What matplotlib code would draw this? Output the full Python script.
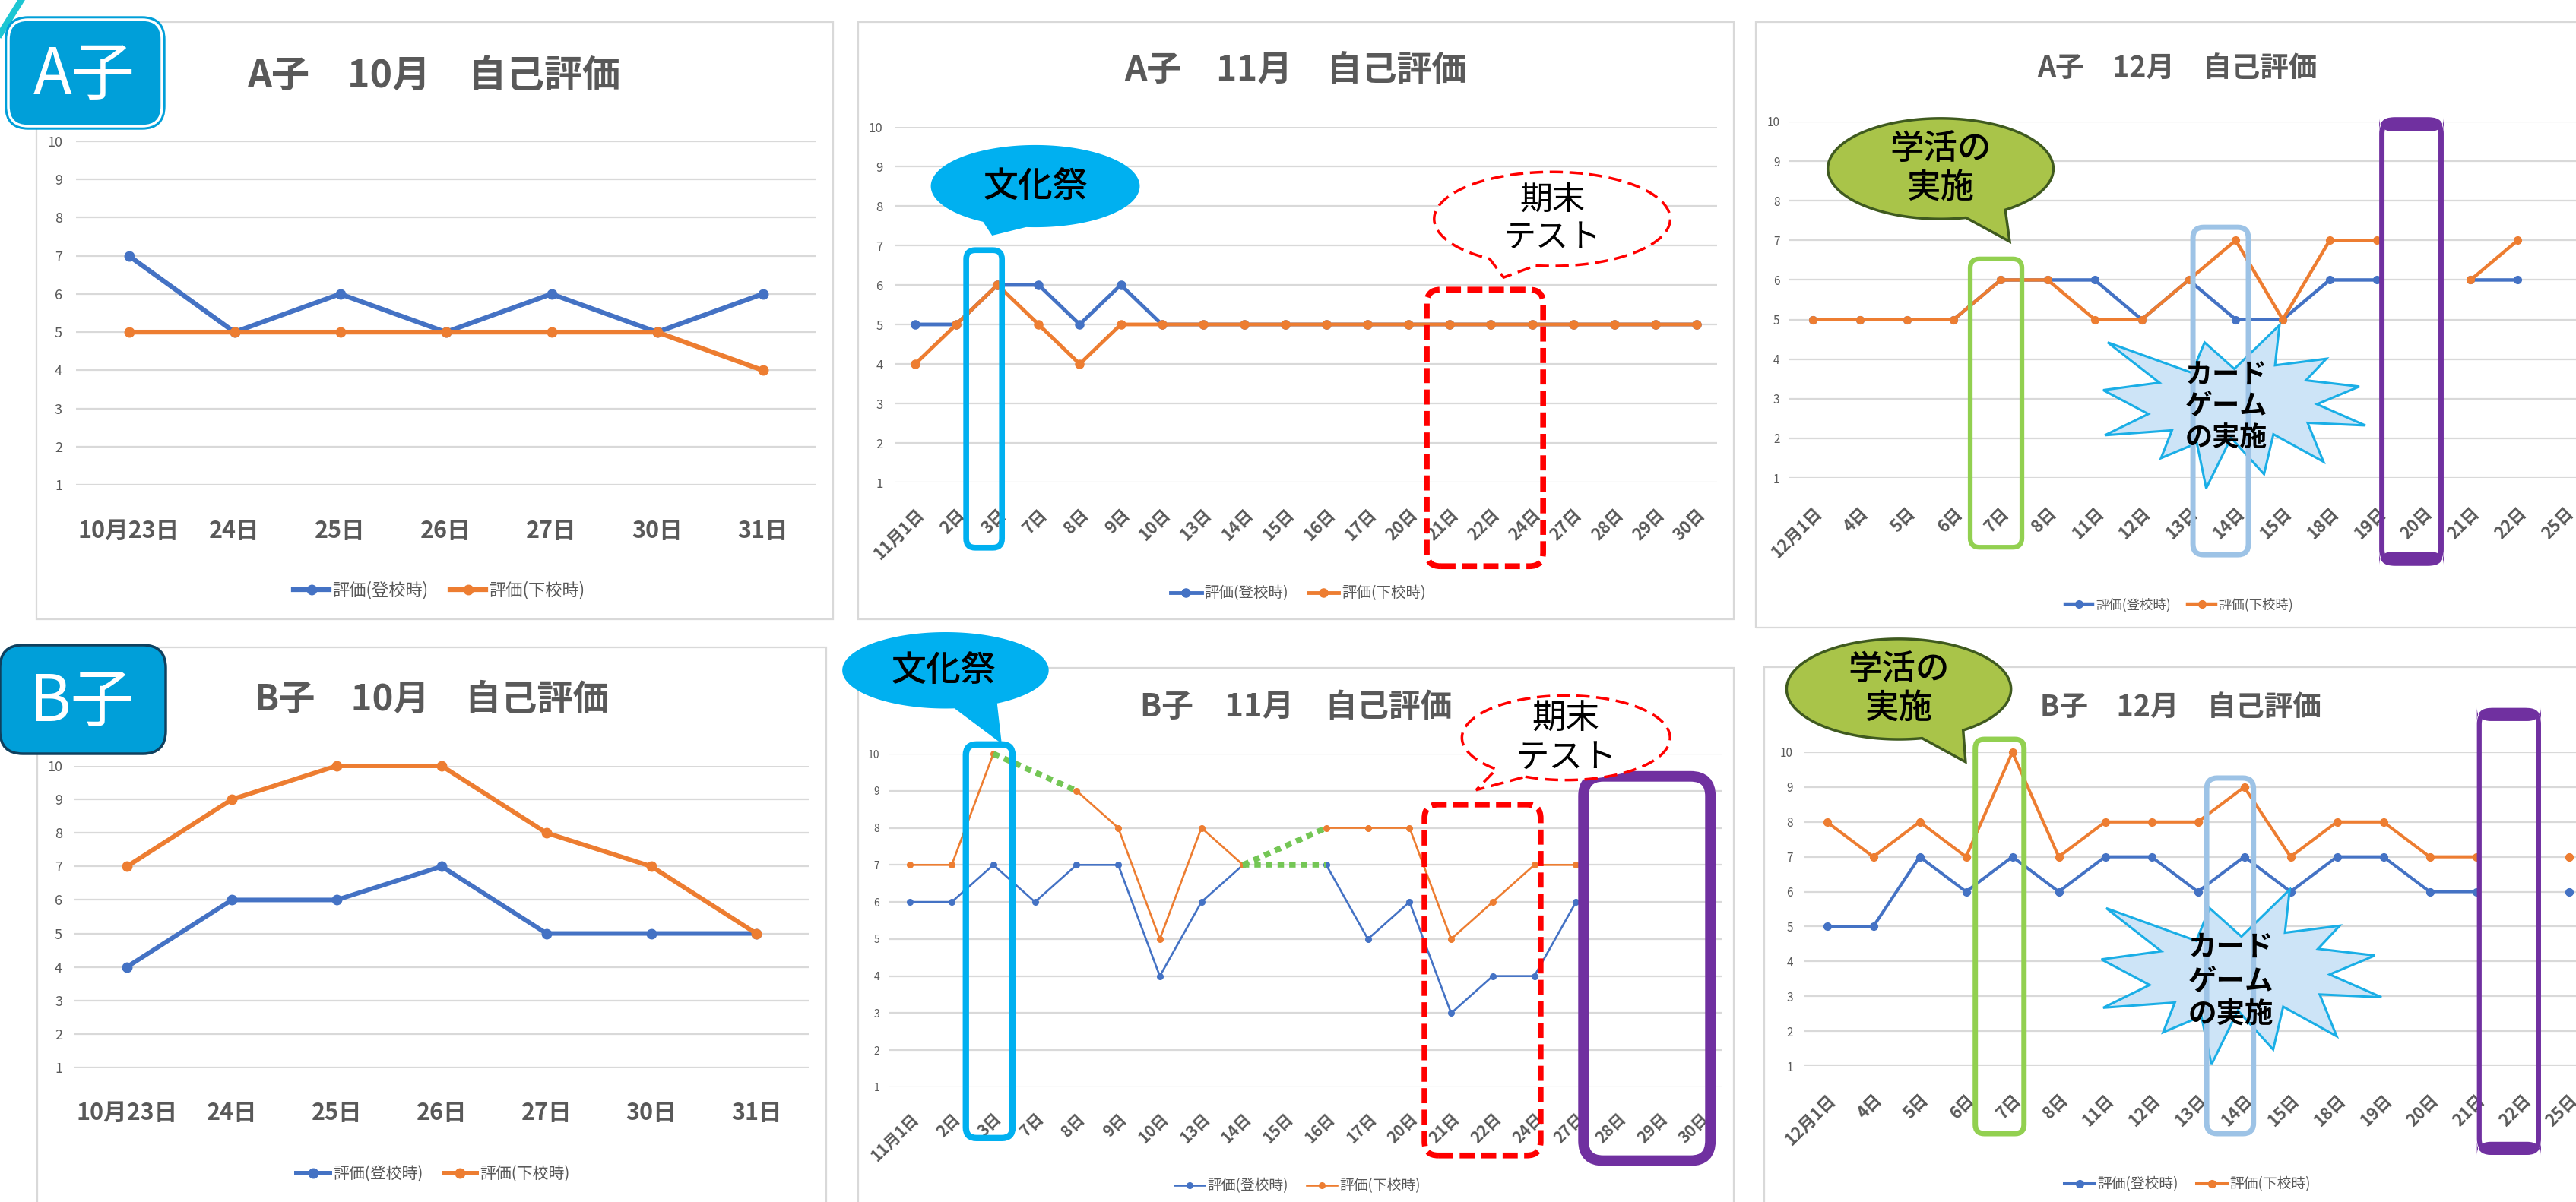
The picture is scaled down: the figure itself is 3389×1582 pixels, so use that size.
import numpy as np
import matplotlib
matplotlib.use('Agg')
from matplotlib import pyplot as plt
from matplotlib.patches import FancyBboxPatch, Polygon
from matplotlib.lines import Line2D

plt.rcParams['font.family'] = ['Noto Sans CJK JP', 'DejaVu Sans']

nan = np.nan

# ~~~~~~~ data ~~~~~~~
oct_days = ['10月23日', '24日', '25日', '26日', '27日', '30日', '31日']
nov_days = ['11月1日', '2日', '3日', '7日', '8日', '9日', '10日', '13日', '14日', '15日',
            '16日', '17日', '20日', '21日', '22日', '24日', '27日', '28日', '29日', '30日']
dec_days = ['12月1日', '4日', '5日', '6日', '7日', '8日', '11日', '12日', '13日', '14日',
            '15日', '18日', '19日', '20日', '21日', '22日', '25日']

a_oct_in = [7, 5, 6, 5, 6, 5, 6]
a_oct_out = [5, 5, 5, 5, 5, 5, 4]
a_nov_in = [5, 5, 6, 6, 5, 6, 5, 5, 5, 5, 5, 5, 5, 5, 5, 5, 5, 5, 5, 5]
a_nov_out = [4, 5, 6, 5, 4, 5, 5, 5, 5, 5, 5, 5, 5, 5, 5, 5, 5, 5, 5, 5]
a_dec_in = [5, 5, 5, 5, 6, 6, 6, 5, 6, 5, 5, 6, 6, nan, 6, 6, nan]
a_dec_out = [5, 5, 5, 5, 6, 6, 5, 5, 6, 7, 5, 7, 7, nan, 6, 7, nan]

b_oct_in = [4, 6, 6, 7, 5, 5, 5]
b_oct_out = [7, 9, 10, 10, 8, 7, 5]
b_nov_in = [6, 6, 7, 6, 7, 7, 4, 6, 7, nan, 7, 5, 6, 3, 4, 4, 6, nan, nan, nan]
b_nov_out = [7, 7, 10, nan, 9, 8, 5, 8, 7, nan, 8, 8, 8, 5, 6, 7, 7, nan, nan, nan]
b_dec_in = [5, 5, 7, 6, 7, 6, 7, 7, 6, 7, 6, 7, 7, 6, 6, nan, 6]
b_dec_out = [8, 7, 8, 7, 10, 7, 8, 8, 8, 9, 7, 8, 8, 7, 7, nan, 7]

series_names = ['評価(登校時)', '評価(下校時)']

BLUE, ORANGE, GRAY, GRID = '#4472C4', '#ED7D31', '#595959', '#D9D9D9'

# Excel "irregularSeal1" outline (21600 units)
SEAL = np.array([(10800, 5800), (14522, 0), (14155, 5325), (18380, 4457), (16702, 7315),
                 (21097, 8137), (17607, 10475), (21600, 13290), (16837, 12942), (18145, 18095),
                 (14020, 14457), (13247, 19737), (10532, 14935), (8485, 21600), (7715, 15627),
                 (4762, 17617), (5667, 13937), (135, 14587), (3722, 11775), (0, 8615),
                 (4627, 7617), (370, 2295), (7312, 6320), (8352, 2295)]) / 21600.0

W, H = 3389, 1582
fig = plt.figure(figsize=(W / 100, H / 100), dpi=100)


def fxy(x, y):
    return x / W, 1 - y / H


def px_box(l, t, r, b, rad=0, **kw):
    p = FancyBboxPatch((l / W, 1 - b / H), (r - l) / W, (b - t) / H,
                       boxstyle=f'round,pad=0,rounding_size={rad / W}',
                       mutation_aspect=W / H, transform=fig.transFigure, **kw)
    fig.add_artist(p)
    return p


def draw_panel(p):
    l, t, r, b = p['plot']
    ax = fig.add_axes([l / W, 1 - b / H, (r - l) / W, (b - t) / H])
    ax.set_facecolor('none')
    n = len(p['days'])
    x = np.arange(n)
    for vals, col in ((p['in'], BLUE), (p['out'], ORANGE)):
        ax.plot(x, vals, color=col, lw=p['lw'], marker='o', ms=p['ms'],
                solid_capstyle='round', solid_joinstyle='round', zorder=3, clip_on=False)
    ax.set_xlim(-0.5, n - 0.5)
    ax.set_ylim(1, 10)
    ax.set_yticks(range(1, 11))
    ax.yaxis.grid(True, color=GRID, lw=1.6)
    ax.set_axisbelow(True)
    for s in ax.spines.values():
        s.set_visible(False)
    ax.set_xticks(x)
    ax.set_xticklabels(p['days'], fontsize=p['xfs'], fontweight='bold', color=GRAY)
    ax.tick_params(axis='y', length=0, labelsize=p['yfs'], labelcolor=GRAY, pad=p['ypad'])
    ax.tick_params(axis='x', length=0, pad=p['xpad'])
    if p['rot']:
        plt.setp(ax.get_xticklabels(), rotation=45, ha='right', va='top', rotation_mode='anchor')
    else:
        plt.setp(ax.get_xticklabels(), va='center')
    fig.text(*fxy(*p['title_xy']), p['title'], ha='center', va='center',
             fontsize=p['tfs'], fontweight='bold', color=GRAY)
    handles = [Line2D([], [], color=c, lw=p['lw'], marker='o', ms=p['ms']) for c in (BLUE, ORANGE)]
    fig.legend(handles, series_names, loc='center', bbox_to_anchor=fxy(*p['legend_xy']),
               ncol=2, frameon=False, fontsize=p['lfs'], labelcolor=GRAY,
               handlelength=2.1, handletextpad=0.2, columnspacing=1.3)
    ax.cw = (r - l) / n
    ax.yu = (b - t) / 9
    return ax


def box(ax, x0, x1, y0, y1, color, lw, rad=12, ls='-', z=6, fill=False):
    ax.add_patch(FancyBboxPatch((x0, y0), x1 - x0, y1 - y0,
                                boxstyle=f'round,pad=0,rounding_size={rad / ax.cw}',
                                mutation_aspect=ax.cw / ax.yu,
                                fc=color if fill else 'none', ec=color,
                                lw=lw, ls=ls, clip_on=False, zorder=z))


def caps(ax, x0, x1, y0, y1, color, lw, thick, rad):
    # thick top/bottom bands of the purple frames
    hx = (lw / 0.72 / 2) / ax.cw
    hy = (lw / 0.72 / 2) / ax.yu
    band = thick / ax.yu
    box(ax, x0 - hx, x1 + hx, y1 - band, y1 + hy, color, 0, rad=rad, fill=True)
    box(ax, x0 - hx, x1 + hx, y0 - hy, y0 + band, color, 0, rad=rad, fill=True)


def bubble(ax, cx, cy, a, b, t1, t2, tip, text, fs, fc, ec='none', lw=0, ls='-',
           weight='medium', tx=None, ty=None):
    t = np.radians(np.linspace(t2, t1 + 360, 240))
    pts = np.c_[cx + a * np.cos(t), cy + b * np.sin(t)]
    pts = np.vstack([pts, tip])
    ax.add_patch(Polygon(pts, closed=True, fc=fc, ec=ec, lw=lw, ls=ls,
                         clip_on=False, zorder=7))
    ax.text(cx if tx is None else tx, cy if ty is None else ty, text, ha='center', va='center',
            fontsize=fs, fontweight=weight, color='black', linespacing=1.15,
            zorder=8, clip_on=False)


def starburst(ax, cx, cy, hw, hh, text, fs, tx, ty):
    xs = cx + (SEAL[:, 0] * 2 - 1) * hw
    ys = cy + (1 - SEAL[:, 1] * 2) * hh
    ax.add_patch(Polygon(np.c_[xs, ys], closed=True, fc='#CDE4F7', ec='#1AAEE6', lw=2.2,
                         clip_on=False, zorder=5))
    ax.text(tx, ty, text, ha='center', va='center', fontsize=fs, fontweight='bold',
            color='black', linespacing=1.15, zorder=8, clip_on=False)


def gap_bridges(ax, vals, color, lw):
    v = np.asarray(vals, float)
    ok = np.where(~np.isnan(v))[0]
    for i0, i1 in zip(ok[:-1], ok[1:]):
        if i1 - i0 > 1:
            ax.plot([i0, i1], [v[i0], v[i1]], color=color, lw=lw, ls=(0, (1.1, 0.9)),
                    solid_capstyle='butt', zorder=4, clip_on=False)


# ~~~~~~~ panel frames ~~~~~~~
for fr in [(48, 29, 1096, 815), (1129, 29, 2281, 815), (2310, 29, 3420, 826),
           (49, 852, 1087, 1600), (1129, 879, 2281, 1600), (2321, 878, 3420, 1600)]:
    px_box(*fr, fc='none', ec=GRID, lw=1.6, zorder=-1)

panels = {
    'a10': dict(plot=(100, 186, 1073, 638), days=oct_days, **{'in': a_oct_in}, out=a_oct_out,
                lw=4.5, ms=9, xfs=22, yfs=13, ypad=13, xpad=44, rot=False,
                title='A子　10月　自己評価', title_xy=(571, 100), tfs=36,
                legend_xy=(578, 777), lfs=16),
    'a11': dict(plot=(1177, 167, 2259, 635), days=nov_days, **{'in': a_nov_in}, out=a_nov_out,
                lw=3.5, ms=8, xfs=16, yfs=12, ypad=11, xpad=22, rot=True,
                title='A子　11月　自己評価', title_xy=(1704, 93), tfs=33,
                legend_xy=(1708, 781), lfs=14),
    'a12': dict(plot=(2354, 160, 3405, 629), days=dec_days, **{'in': a_dec_in}, out=a_dec_out,
                lw=3.2, ms=7, xfs=16, yfs=11, ypad=9, xpad=25, rot=True,
                title='A子　12月　自己評価', title_xy=(2864, 90), tfs=27,
                legend_xy=(2867, 796), lfs=12.5),
    'b10': dict(plot=(98, 1008, 1064, 1405), days=oct_days, **{'in': b_oct_in}, out=b_oct_out,
                lw=4.3, ms=9, xfs=22, yfs=13, ypad=11.5, xpad=43, rot=False,
                title='B子　10月　自己評価', title_xy=(568, 921), tfs=34,
                legend_xy=(570, 1545), lfs=15),
    'b11': dict(plot=(1170, 992, 2265, 1431), days=nov_days, **{'in': b_nov_in}, out=b_nov_out,
                lw=1.9, ms=5.5, xfs=15, yfs=10, ypad=9, xpad=22, rot=True,
                title='B子　11月　自己評価', title_xy=(1705, 931), tfs=30,
                legend_xy=(1707, 1561), lfs=13.5),
    'b12': dict(plot=(2373, 990, 3410, 1403), days=dec_days, **{'in': b_dec_in}, out=b_dec_out,
                lw=2.9, ms=7, xfs=16, yfs=11, ypad=10, xpad=24, rot=True,
                title='B子　12月　自己評価', title_xy=(2869, 931), tfs=27,
                legend_xy=(2878, 1559), lfs=13.5),
}
axs = {k: draw_panel(v) for k, v in panels.items()}

CYAN, RED, LGREEN, LBLUE, PURPLE = '#00B0F0', '#FF0000', '#92D050', '#9DC3E6', '#7030A0'
OLIVE, OLIVE_EC = '#A9C449', '#3F5A1F'
dash = (0, (2.6, 1.1))

# A 11月
ax = axs['a11']
box(ax, 1.24, 2.11, -0.65, 6.88, CYAN, 5.5, rad=12)
bubble(ax, 2.92, 8.5, 2.54, 1.04, 240, 265, (1.87, 7.25), '文化祭', 33, CYAN)
box(ax, 12.44, 15.27, -1.12, 5.88, RED, 5.5, rad=18, ls=dash)
bubble(ax, 15.49, 7.67, 2.87, 1.19, 238, 262, (14.31, 6.19), '期末\nテスト', 31,
       'white', RED, 2.5, (0, (5, 2.5)), weight='regular')

# A 12月
ax = axs['a12']
bubble(ax, 2.72, 8.81, 2.40, 1.27, 283, 305, (4.19, 6.97), '学活の\n実施', 32,
       OLIVE, OLIVE_EC, 2.5)
box(ax, 3.35, 4.45, -0.75, 6.53, LGREEN, 4.5, rad=12)
starburst(ax, 8.97, 2.80, 2.79, 2.06, 'カード\nゲーム\nの実施', 26, 8.8, 2.81)
box(ax, 8.09, 9.27, -0.94, 7.33, LBLUE, 5, rad=14)
box(ax, 12.11, 13.37, -1.15, 10.04, PURPLE, 5, rad=18)
caps(ax, 12.11, 13.37, -1.15, 10.04, PURPLE, 5, 15, 18)

# B 11月
ax = axs['b11']
gap_bridges(ax, b_nov_out, '#74C655', 5.5)
gap_bridges(ax, b_nov_in, '#74C655', 5.5)
box(ax, 1.34, 2.46, -0.37, 10.25, CYAN, 6, rad=14)
bubble(ax, 0.85, 12.25, 2.48, 1.03, 275, 300, (2.20, 10.27), '文化祭', 33, CYAN, tx=0.81)
box(ax, 12.36, 15.15, -0.84, 8.63, RED, 5.5, rad=18, ls=dash)
bubble(ax, 15.76, 10.43, 2.5, 1.14, 228, 247, (13.6, 9.02), '期末\nテスト', 32,
       'white', RED, 2.5, (0, (5, 2.5)), weight='regular')
box(ax, 16.18, 19.23, -0.98, 9.39, PURPLE, 10, rad=26)

# B 12月
ax = axs['b12']
bubble(ax, 1.55, 11.81, 2.42, 1.44, 282, 305, (2.99, 9.72), '学活の\n実施', 32,
       OLIVE, OLIVE_EC, 2.5)
box(ax, 3.20, 4.25, -0.94, 10.37, LGREEN, 5, rad=12)
starburst(ax, 8.94, 3.55, 3.02, 2.51, 'カード\nゲーム\nの実施', 27, 8.71, 3.46)
box(ax, 8.19, 9.20, -0.94, 9.26, LBLUE, 5, rad=14)
box(ax, 14.07, 15.35, -1.48, 11.2, PURPLE, 4.5, rad=18)
caps(ax, 14.07, 15.35, -1.48, 11.2, PURPLE, 4.5, 14, 18)

# ~~~~~~~ name badges ~~~~~~~
BADGE = '#009FD9'
px_box(7, 22, 217, 170, rad=30, fc=BADGE, ec=BADGE, lw=1, zorder=10)
px_box(11, 26, 213, 166, rad=26, fc='none', ec='white', lw=2.5, zorder=11)
fig.text(*fxy(111, 100), 'A子', ha='center', va='center', fontsize=60, color='white', zorder=12)
px_box(0, 849, 218, 992, rad=30, fc=BADGE, ec='#0F405E', lw=2.5, zorder=10)
fig.text(*fxy(108, 925), 'B子', ha='center', va='center', fontsize=60, color='white', zorder=12)
fig.add_artist(Line2D([0 / W, 28 / W], [1 - 45 / H, 1 - 0 / H], color='#1CC6D3', lw=6,
                      transform=fig.transFigure, zorder=9))

fig.savefig('out.png', dpi=100)
